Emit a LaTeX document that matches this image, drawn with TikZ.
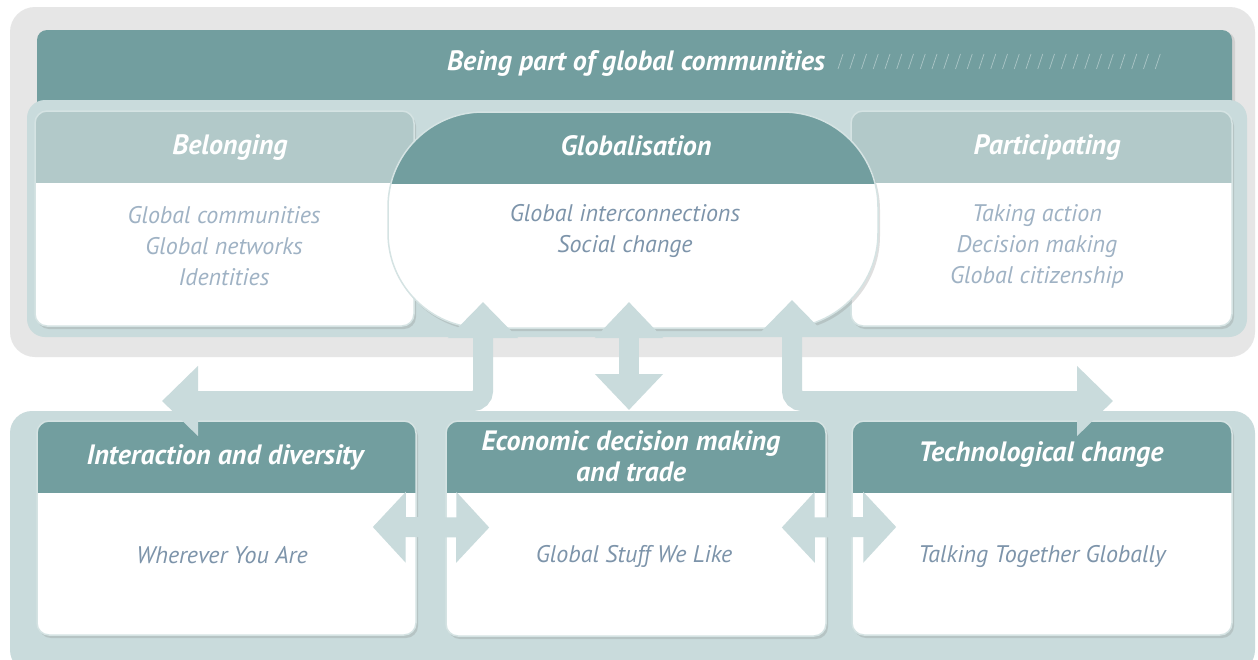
\documentclass[tikz,border=0pt]{standalone}
\usepackage{fontspec}
\setmainfont{PT Sans}
\usetikzlibrary{arrows.meta, calc, positioning, shadows}

\definecolor{tealdark}{HTML}{729E9F}
\definecolor{teallight}{HTML}{B2C9C9}
\definecolor{tealpale}{HTML}{C9DBDC}
\definecolor{panelgray}{HTML}{E6E6E6}
\definecolor{cardline}{HTML}{D5E3E3}
\definecolor{bodylight}{HTML}{9FB2C4}
\definecolor{bodydark}{HTML}{7D94AA}

\tikzset{
  card/.style={draw=cardline, line width=1.5pt, fill=white, rounded corners=12pt,
    inner sep=0pt, drop shadow={shadow xshift=2pt, shadow yshift=-3pt, opacity=0.25}},
  head/.style={path picture={\fill[#1, sharp corners] (path picture bounding box.north west)
    rectangle ([yshift=-72pt]path picture bounding box.north east);}},
  headtext/.style={text=white, font=\fontsize{28}{31}\selectfont\bfseries\itshape, align=center},
  bodytext/.style={text=#1, font=\fontsize{24}{31}\selectfont\itshape, align=center},
  flow/.style={draw=tealpale, line width=20pt, rounded corners=10pt},
}

\begin{document}
\begin{tikzpicture}[x=1pt,y=-1pt]

% ------------------------------------------------------------
% Canvas and back panels
% ------------------------------------------------------------
\useasboundingbox (0,0) rectangle (1258,659);
\fill[white] (0,0) rectangle (1258,659);

\fill[panelgray, rounded corners=25pt] (10,7) rectangle (1255,357);
\fill[tealpale, rounded corners=22pt] (10,411) rectangle (1255,672);

% Banner across the top
\node[fill=tealdark, rounded corners=10pt, minimum width=1195pt, minimum height=90pt,
  drop shadow={shadow xshift=3pt, shadow yshift=-2pt, opacity=0.2}] (banner) at (634.5,75) {};
\node[headtext] (title) at (636,63) {Being part of global communities};
\foreach \k in {0,...,27} {
  \draw[white, opacity=0.4, line width=0.7pt] ({838+11.75*\k},69) -- ++(5,-15);
}

\fill[tealpale, rounded corners=18pt] (27,100) rectangle (1247,337);

% ------------------------------------------------------------
% Top row: Belonging, Participating, Globalisation
% ------------------------------------------------------------
\node[card, head=teallight, minimum width=379pt, minimum height=215pt] (belong) at (224.5,218.5) {};
\node[headtext] (belong-head) at (230,148) {Belonging};
\node[bodytext=bodylight] (belong-body) at (224,246)
  {Global communities\\ Global networks\\ Identities};

\node[card, head=teallight, minimum width=381pt, minimum height=215pt] (partic) at (1041.5,218.5) {};
\node[headtext] (partic-head) at (1047,148) {Participating};
\node[bodytext=bodylight] (partic-body) at (1037,246)
  {Taking action\\ Decision making\\ Global citizenship};

\node[card, head=tealdark, rounded corners=95pt, minimum width=490pt, minimum height=216pt] (glob) at (633,220) {};
\node[headtext] (glob-head) at (636,146) {Globalisation};
\node[bodytext=bodydark] (glob-body) at (625,230.5)
  {Global interconnections\\ Social change};

% ------------------------------------------------------------
% Bottom row: the three units
% ------------------------------------------------------------
\node[card, head=tealdark, minimum width=379pt, minimum height=214pt] (inter) at (226.5,528) {};
\node[headtext] (inter-head) at (225,457) {Interaction and diversity};
\node[bodytext=bodydark] (inter-body) at (222,555) {Wherever You Are};

\node[card, head=tealdark, minimum width=380pt, minimum height=215pt] (econ) at (636,528.5) {};
\node[headtext] (econ-head) at (631,456.5) {Economic decision making\\ and trade};
\node[bodytext=bodydark] (econ-body) at (634,556) {Global Stuff We Like};

\node[card, head=tealdark, minimum width=380pt, minimum height=214pt] (techn) at (1042,528) {};
\node[headtext] (techn-head) at (1041,455) {Technological change};
\node[bodytext=bodydark] (techn-body) at (1042,556) {Talking Together Globally};

% ------------------------------------------------------------
% Arrows (end points as named coordinates)
% ------------------------------------------------------------
\coordinate (glob-l) at (483,302);
\coordinate (glob-m) at (629,302);
\coordinate (glob-r) at (792,300);
\coordinate (out-l) at (162,401);
\coordinate (out-m) at (629,410);
\coordinate (out-r) at (1113,401);

\draw[flow, {Triangle[width=68pt, length=36pt]}-{Triangle[width=68pt, length=36pt]}] (glob-l) |- (out-l);
\draw[flow, {Triangle[width=66pt, length=36pt]}-{Triangle[width=66pt, length=36pt]}] (glob-m) -- (out-m);
\draw[flow, {Triangle[width=68pt, length=36pt]}-{Triangle[width=68pt, length=36pt]}] (glob-r) |- (out-r);

\coordinate (ie-a) at ($(inter.east)+(-44,-1)$);
\coordinate (ie-b) at ($(econ.west)+(44,-1)$);
\coordinate (et-a) at ($(econ.east)+(-45,-1)$);
\coordinate (et-b) at ($(techn.west)+(45,-1)$);

\draw[flow, {Triangle[width=69pt, length=33pt]}-{Triangle[width=69pt, length=33pt]}] (ie-a) -- (ie-b);
\draw[flow, {Triangle[width=69pt, length=33pt]}-{Triangle[width=69pt, length=33pt]}] (et-a) -- (et-b);

\end{tikzpicture}
\end{document}
